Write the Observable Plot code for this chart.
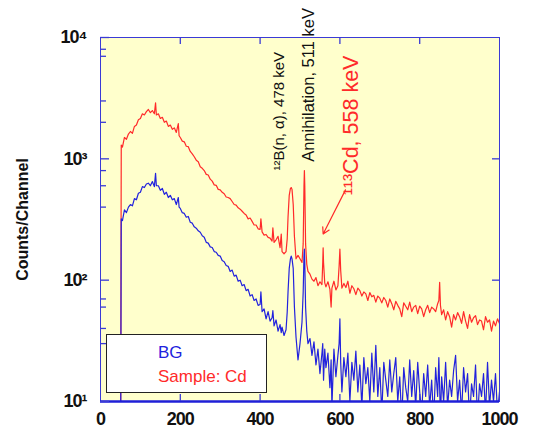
<!DOCTYPE html>
<html>
<head>
<meta charset="utf-8">
<script src="https://cdn.jsdelivr.net/npm/d3@7"></script>
<script src="https://cdn.jsdelivr.net/npm/@observablehq/plot@0.6"></script>
<style>
  html, body { margin: 0; padding: 0; background: #ffffff; }
  #wrap { position: relative; width: 540px; height: 432px; font-family: "Liberation Sans", Arial, sans-serif; }
  #legend { position: absolute; left: 106px; top: 334px; width: 159px; height: 57px; background: #ffffff; border: 1.5px solid #222; box-sizing: content-box; font-size: 17px; line-height: 23px; }
  #legend .bg { position: absolute; left: 51px; top: 6px; color: #2222dd; }
  #legend .cd { position: absolute; left: 51px; top: 30px; color: #ff2a2a; }
</style>
</head>
<body>
<div id="wrap"></div>
<script>
// Channels (energy channel numbers)
const channels = [
  50, 52, 55, 60, 65, 70, 75, 80, 85, 90,
  95, 100, 105, 110, 115, 120, 125, 130, 135, 138,
  140, 145, 150, 155, 160, 165, 170, 175, 180, 185,
  190, 195, 197, 200, 205, 210, 215, 220, 225, 230,
  235, 240, 245, 250, 255, 260, 265, 270, 275, 280,
  285, 290, 295, 300, 305, 310, 315, 320, 325, 330,
  335, 340, 345, 350, 355, 360, 365, 370, 375, 380,
  385, 390, 395, 400, 402, 405, 410, 415, 420, 425,
  430, 432, 435, 440, 445, 450, 453, 455, 460, 465,
  468, 470, 473, 476, 478, 480, 483, 486, 490, 495,
  500, 505, 508, 510, 511, 512, 514, 517, 520, 525,
  530, 535, 540, 545, 550, 555, 557, 558, 559, 562,
  565, 570, 575, 578, 580, 585, 590, 595, 598, 600,
  602, 605, 610, 615, 620, 625, 630, 635, 640, 645,
  650, 655, 660, 665, 670, 675, 680, 685, 690, 695,
  700, 705, 710, 715, 720, 725, 730, 735, 740, 745,
  750, 755, 760, 765, 770, 775, 780, 785, 790, 795,
  800, 805, 810, 815, 820, 825, 830, 835, 840, 845,
  848, 850, 852, 855, 860, 865, 870, 875, 880, 885,
  890, 895, 900, 905, 910, 915, 920, 925, 930, 935,
  940, 945, 950, 955, 960, 965, 970, 975, 980, 985,
  990, 995, 1000
];
// Sample: Cd counts/channel
const sampleCounts = [
  1, 1300, 1250, 1500, 1450, 1600, 1680, 1620, 1850, 1900,
  2100, 2150, 2350, 2300, 2450, 2550, 2400, 2500, 2350, 2900,
  2300, 2350, 2150, 2200, 2000, 2050, 1850, 1900, 1750, 1800,
  1650, 1950, 1550, 1500, 1400, 1380, 1270, 1260, 1150, 1100,
  1040, 975, 945, 860, 835, 800, 745, 735, 680, 655,
  610, 605, 560, 555, 530, 515, 485, 480, 470, 445,
  420, 415, 395, 385, 370, 355, 345, 320, 325, 305,
  285, 285, 265, 262, 320, 250, 235, 238, 225, 222,
  210, 270, 205, 215, 230, 185, 240, 172, 165, 172,
  220, 330, 500, 570, 580, 560, 420, 230, 150, 160,
  150, 140, 200, 600, 800, 600, 200, 135, 118, 112,
  102, 98, 105, 90, 97, 92, 140, 185, 140, 95,
  88, 97, 84, 60, 86, 98, 83, 90, 130, 180,
  120, 86, 94, 87, 98, 78, 90, 85, 76, 86,
  82, 74, 80, 77, 68, 79, 73, 75, 66, 74,
  71, 65, 72, 68, 60, 70, 64, 57, 67, 62,
  58, 50, 65, 61, 57, 66, 55, 60, 62, 53,
  61, 58, 50, 57, 62, 54, 60, 58, 55, 64,
  68, 96, 62, 52, 57, 47, 55, 50, 41, 52,
  47, 54, 50, 44, 55, 46, 40, 52, 45, 49,
  51, 43, 47, 46, 39, 50, 45, 47, 38, 46,
  42, 48, 44
];
// BG counts/channel
const bgCounts = [
  1, 320, 310, 380, 360, 400, 420, 410, 470, 460,
  520, 530, 590, 580, 620, 630, 600, 650, 590, 760,
  600, 600, 550, 570, 510, 530, 480, 500, 460, 470,
  420, 480, 400, 390, 360, 355, 330, 335, 300, 295,
  275, 268, 255, 248, 232, 226, 205, 202, 188, 186,
  172, 170, 160, 158, 145, 142, 132, 130, 118, 121,
  108, 110, 98, 100, 90, 92, 82, 84, 74, 76,
  68, 70, 62, 63, 80, 55, 58, 48, 55, 46,
  49, 56, 42, 47, 38, 43, 37, 41, 35, 39,
  55, 80, 125, 150, 158, 150, 125, 60, 34, 22,
  30, 45, 80, 160, 180, 140, 60, 38, 30, 33,
  24, 31, 20, 27, 17, 25, 30, 21, 15, 27,
  19, 25, 13, 22, 9, 27, 16, 24, 30, 48,
  21, 12, 23, 16, 25, 10, 21, 15, 26, 12,
  20, 9, 23, 14, 19, 10, 25, 12, 29, 11,
  19, 8, 21, 15, 11, 22, 12, 17, 23, 10,
  16, 7, 19, 13, 10, 22, 11, 18, 9, 21,
  12, 8, 17, 11, 20, 9, 15, 7, 19, 11,
  23, 13, 7, 16, 10, 21, 9, 15, 11, 18,
  24, 10, 15, 8, 19, 12, 17, 7, 14, 11,
  20, 7, 14, 11, 17, 8, 21, 9, 15, 10,
  17, 8, 12
];

const xTicks = [0, 200, 400, 600, 800, 1000];
const xInnerTicks = [200, 400, 600, 800];
const yMajorTicks = [10, 100, 1000, 10000];
const yTickLabels = ["10¹", "10²", "10³", "10⁴"];
const yMinorTicks = [30, 40, 60, 70, 400, 600, 800, 2000, 3000, 7000, 8000];
const yRightTicks = [100, 1000];

// Annotations in data units (channel, counts)
const peakLabels = [
  {ch: 449, counts: 800, text: "¹²B(n, α), 478 keV", color: "#111", size: 15},
  {ch: 521, counts: 944, text: "Annihilation, 511 keV", color: "#111", size: 16.5},
  {ch: 628, counts: 500, text: "¹¹³Cd, 558 keV", color: "#ff2a2a", size: 21.5}
];
const cdArrow = [{x1: 614, y1: 555, x2: 558, y2: 240}];

const series = channels.map((c, i) => ({ch: c, sample: sampleCounts[i], bg: bgCounts[i]}));

const W = 540, H = 432;
const mL = 100, mR = 41, mT = 37, mB = 31;
const fw = W - mL - mR, fh = H - mT - mB;
const blue = "#3a3ad6";

const chart = Plot.plot({
  width: W,
  height: H,
  marginLeft: mL,
  marginRight: mR,
  marginTop: mT,
  marginBottom: mB,
  style: {background: "#ffffff", fontFamily: "'Liberation Sans', Arial, sans-serif", overflow: "visible"},
  x: {domain: [0, 1000]},
  y: {type: "log", domain: [10, 10000]},
  marks: [
    Plot.frame({fill: "#ffffcc", stroke: "none"}),
    Plot.line(series, {x: "ch", y: "sample", stroke: "#ff2a2a", strokeWidth: 1.2, clip: true}),
    Plot.line(series, {x: "ch", y: "bg", stroke: "#2222dd", strokeWidth: 1.2, clip: true}),
    Plot.frame({stroke: blue, strokeWidth: 1}),
    Plot.ruleY([10], {stroke: "#1f1fd8", strokeWidth: 2.5}),
    // inner ticks: left major & minor, right major, top & bottom
    Plot.tickY(yMajorTicks, {y: d => d, stroke: blue, strokeWidth: 1.3, insetRight: fw - 9}),
    Plot.tickY(yMinorTicks, {y: d => d, stroke: blue, strokeWidth: 1.3, insetRight: fw - 6}),
    Plot.tickY(yRightTicks, {y: d => d, stroke: blue, strokeWidth: 1.3, insetLeft: fw - 7}),
    Plot.tickX(xInnerTicks, {x: d => d, stroke: blue, strokeWidth: 1.3, insetBottom: fh - 7}),
    Plot.tickX(xInnerTicks, {x: d => d, stroke: blue, strokeWidth: 1.3, insetTop: fh - 7}),
    Plot.axisX(xTicks, {
      tickSize: 0, tickPadding: 11, fontSize: 18, fontWeight: "bold", fill: "#111",
      label: null, tickFormat: d => String(d)
    }),
    Plot.axisY(yMajorTicks, {
      tickSize: 0, tickPadding: 14, fontSize: 18, fontWeight: "bold", fill: "#111",
      tickFormat: d => yTickLabels[yMajorTicks.indexOf(d)],
      label: "Counts/Channel", labelAnchor: "center", labelOffset: 84, labelArrow: "none"
    }),
    Plot.text(peakLabels, {
      x: "ch", y: "counts", text: "text", fill: "color", fontSize: "size",
      rotate: -90, textAnchor: "start", lineAnchor: "middle"
    }),
    Plot.arrow(cdArrow, {x1: "x1", y1: "y1", x2: "x2", y2: "y2", stroke: "#ff2a2a", strokeWidth: 1.2, headLength: 9})
  ]
});

// Style the y-axis title (bold)
chart.querySelectorAll("g[aria-label='y-axis label'] text").forEach(t => {
  t.setAttribute("font-weight", "bold");
  t.setAttribute("font-size", "16");
  t.setAttribute("fill", "#111");
});
chart.querySelectorAll("g[aria-label='x-axis tick label'] text, g[aria-label='y-axis tick label'] text").forEach(t => {
  t.setAttribute("letter-spacing", "-1");
});

const wrap = document.getElementById("wrap");
wrap.appendChild(chart);
const legend = document.createElement("div");
legend.id = "legend";
legend.innerHTML = '<span class="bg">BG</span><span class="cd">Sample: Cd</span>';
wrap.appendChild(legend);
</script>
</body>
</html>
